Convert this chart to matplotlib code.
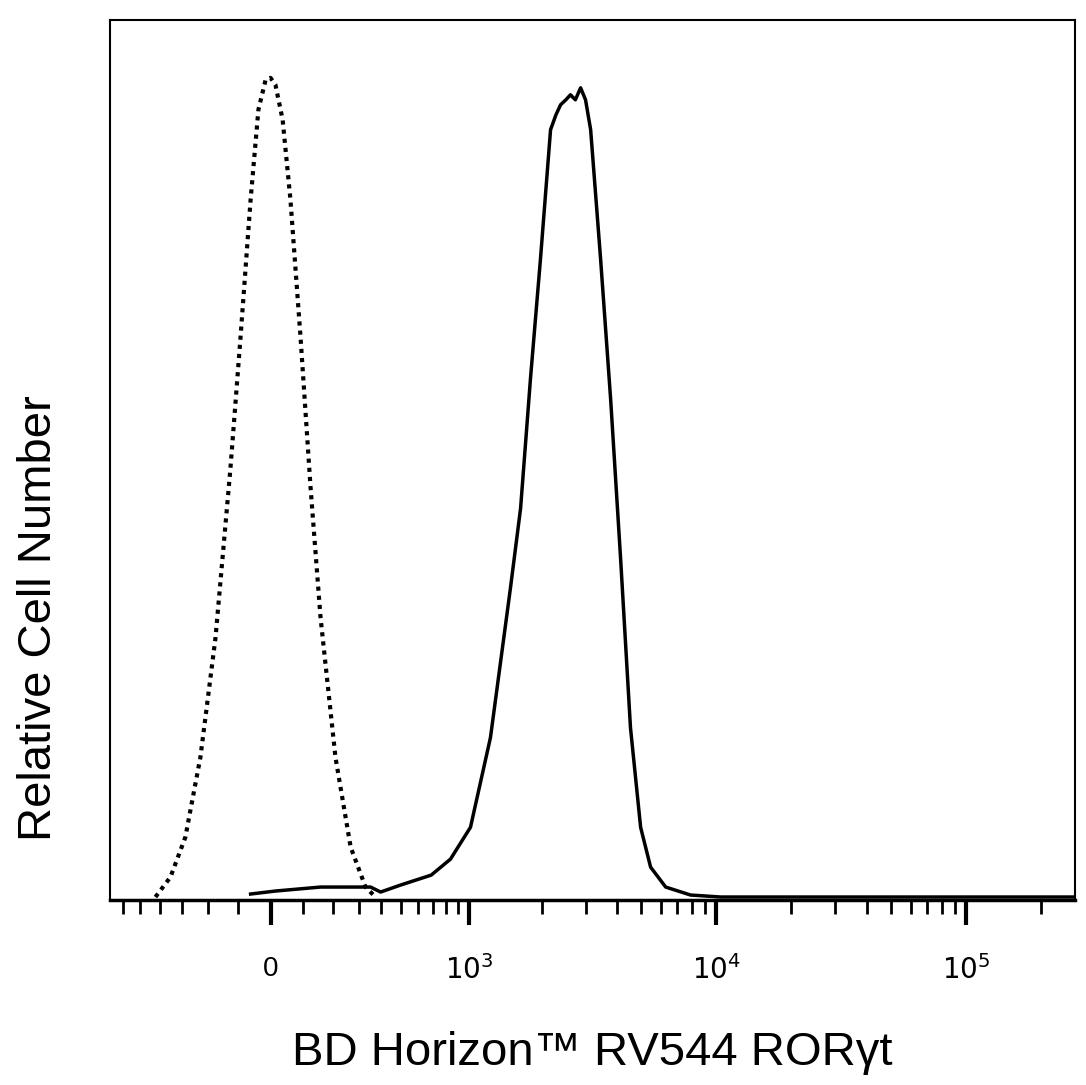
import numpy as np
import matplotlib
matplotlib.use("Agg")
import matplotlib.pyplot as plt
from matplotlib.scale import FuncScale

plt.rcParams['font.family'] = ['Liberation Sans', 'DejaVu Sans']

# Isotype control (dotted)
iso_x = [-420, -350, -287, -229, -175, -125, -93, -61, -37, -15, 0, 15, 37, 61, 93, 125, 158, 210, 267, 328, 372]
iso_y = [0, 20, 60, 140, 260, 430, 560, 700, 790, 820, 822, 815, 780, 700, 560, 410, 280, 140, 50, 10, 0]

# RORyt stained (solid)
ror_x = [-61, 15, 158, 350, 396, 498, 689, 836, 1017, 1232, 1489, 1638, 1797, 1973, 2168, 2280, 2380, 2500, 2608,
         2730, 2866, 3000, 3145, 3449, 3783, 4148, 4545, 4991, 5472, 6289, 7911, 10430, 21800, 270000]
ror_y = [3, 6, 10, 10, 5, 12, 22, 38, 70, 160, 310, 390, 520, 640, 770, 785, 795, 800, 805,
         800, 812, 800, 770, 640, 500, 340, 170, 70, 30, 10, 2, 0, 0, 0]

C = 331.0
def fwd(x):
    return np.arcsinh(np.asarray(x, float) / C)
def inv(u):
    return C * np.sinh(np.asarray(u, float))

fig = plt.figure(figsize=(10.86, 10.85), dpi=100)
ax = fig.add_axes([0.101, 0.1705, 0.889, 0.811])
ax.set_xscale(FuncScale(ax.xaxis, (fwd, inv)))
ax.plot(iso_x, iso_y, color='black', lw=3, linestyle=(0, (1, 1.2)))
ax.plot(ror_x, ror_y, color='black', lw=2.5)
ax.set_xlim(-690, 273000)
ax.set_ylim(-3, 880)

ax.set_xticks([0, 1e3, 1e4, 1e5])
ax.set_xticklabels(['0', '$10^3$', '$10^4$', '$10^5$'], fontsize=20)
minor = [-600, -500, -400, -300, -200, -100, 100, 200, 300, 400, 500, 600, 700, 800, 900]
for d in [1e3, 1e4, 1e5]:
    minor += [d * k for k in range(2, 10)]
minor = [m for m in minor if m < 273000]
ax.set_xticks(minor, minor=True)
ax.tick_params(axis='x', which='major', length=18, width=3, direction='out', pad=22)
ax.tick_params(axis='x', which='minor', length=10, width=2, direction='out')
ax.set_yticks([])
for s in ax.spines.values():
    s.set_linewidth(1.5)
ax.spines['bottom'].set_linewidth(2.5)

fig.text(0.545, 0.018, 'BD Horizon™ RV544 RORγt', ha='center', fontsize=34)
fig.text(0.036, 0.43, 'Relative Cell Number', ha='center', va='center', rotation=90, fontsize=34)
fig.savefig('out.png', dpi=100)
